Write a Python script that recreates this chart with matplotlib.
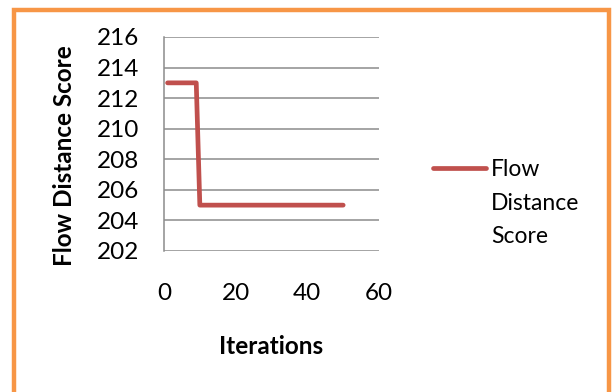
import matplotlib
matplotlib.use("Agg")
import matplotlib.pyplot as plt
from matplotlib.patches import Rectangle
from matplotlib.lines import Line2D

# Data
iterations = list(range(1, 51))
scores = [213] * 9 + [205] * 41
series_name = "Flow Distance Score"
legend_lines = ["Flow", "Distance", "Score"]
x_ticks = [0, 20, 40, 60]
y_ticks = [202, 204, 206, 208, 210, 212, 214, 216]

W, H = 613, 392
plt.rcParams['font.family'] = ['Lato', 'DejaVu Sans']
fig = plt.figure(figsize=(W / 100, H / 100), dpi=100)
fig.patch.set_facecolor('white')

ax = fig.add_axes([164 / W, 1 - 251 / H, (379 - 164) / W, (251 - 37) / H])
line_color = '#C0504D'
ax.plot(iterations, scores, color=line_color, lw=3.4, solid_capstyle='round', solid_joinstyle='round')

ax.set_xlim(0, 60)
ax.set_ylim(202, 216)
ax.set_xticks(x_ticks)
ax.set_yticks(y_ticks)
ax.grid(axis='y', color='#8C8C8C', lw=1.1)
ax.set_axisbelow(True)
for s in ['top', 'right', 'bottom']:
    ax.spines[s].set_visible(False)
ax.spines['left'].set_color('#8C8C8C')
ax.spines['left'].set_linewidth(1.1)
ax.tick_params(axis='both', length=0, labelsize=17.5)
ax.tick_params(axis='y', pad=18)
ax.tick_params(axis='x', pad=23)

ax.set_xlabel('Iterations', fontsize=17.5, fontweight='bold')
ax.set_ylabel(series_name, fontsize=17.5, fontweight='bold')
ax.xaxis.set_label_coords(0.5, (251 - 335) / 214)
ax.yaxis.set_label_coords((76 - 164) / 215, (251 - 156) / 214)

# Legend (manual, Excel-like: handle aligned with first text line)
fig.add_artist(Line2D([433 / W, 486 / W], [1 - 168 / H] * 2, color=line_color, lw=3.4,
                      solid_capstyle='round'))
for i, t in enumerate(legend_lines):
    fig.text(491 / W, 1 - (168 + 33 * i) / H, t, fontsize=16.5, va='center_baseline',
             ha='left', transform=fig.transFigure)

# Orange border
fig.add_artist(Rectangle((13.5 / W, 0 - 2 / H), (609 - 13.5) / W, (392 - 7.5) / H,
                         transform=fig.transFigure, fill=False, edgecolor='#F79646', lw=3.2))

fig.savefig('out.png', dpi=100, facecolor='white')
